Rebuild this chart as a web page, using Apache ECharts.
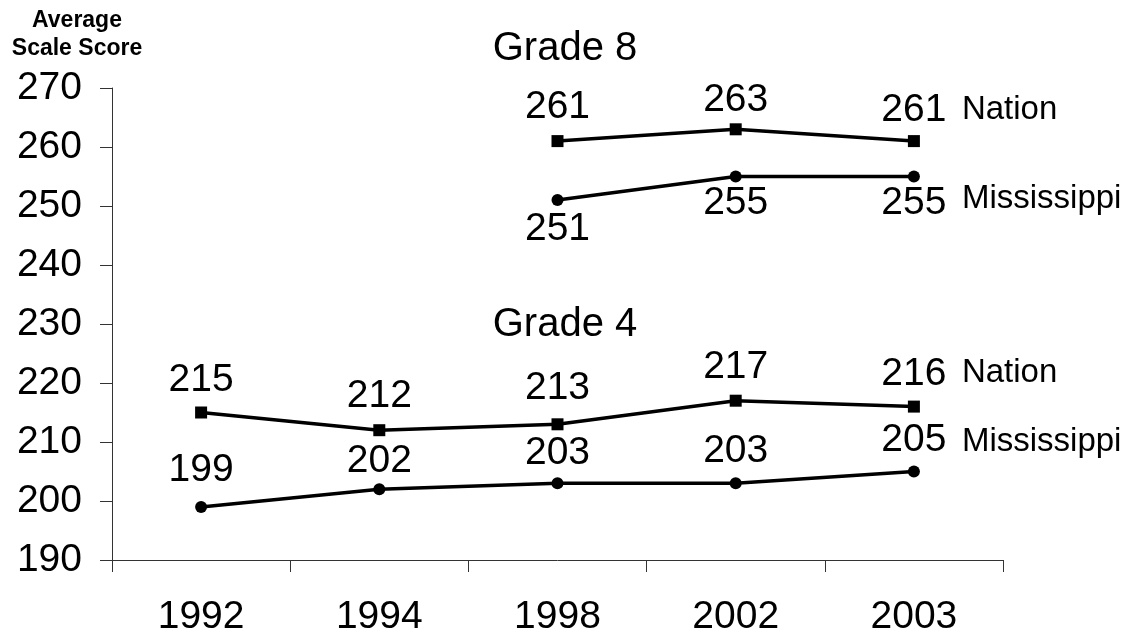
<!DOCTYPE html>
<html>
<head>
<meta charset="utf-8">
<script src="https://cdn.jsdelivr.net/npm/echarts@6/dist/echarts.min.js"></script>
<style>
  html,body{margin:0;padding:0;background:#fff;}
  #main{width:1128px;height:637px;}
</style>
</head>
<body>
<div id="main"></div>
<script>
var years = ['1992', '1994', '1998', '2002', '2003'];
var g8Nation = ['-', '-', 261, 263, 261];
var g8Miss = ['-', '-', 251, 255, 255];
var g4Nation = [215, 212, 213, 217, 216];
var g4Miss = [199, 202, 203, 203, 205];
var yTicks = [190, 200, 210, 220, 230, 240, 250, 260, 270];

// how far each value label sits above (-) or below (+) its point, px
var g8NationLabelDy = [0, 0, -34, -29, -31];
var g8MissLabelDy = [0, 0, 29, 27, 27];
var g4NationLabelDy = [-32, -34, -36, -33, -32];
var g4MissLabelDy = [-37, -28, -30, -32, -31];

var chart = echarts.init(document.getElementById('main'));
var FONT = 'Liberation Sans, Arial, sans-serif';

function withLabels(values, dys) {
  var out = [];
  for (let i = 0; i < values.length; i++) {
    if (values[i] === '-') {
      out.push('-');
    } else {
      out.push({ value: values[i], label: { offset: [0, dys[i]] } });
    }
  }
  return out;
}

function lineSeries(name, values, dys, symbol, nameOffset) {
  return {
    name: name,
    type: 'line',
    data: withLabels(values, dys),
    symbol: symbol,
    symbolSize: 12,
    lineStyle: { color: '#000', width: 3.5 },
    itemStyle: { color: '#000' },
    label: {
      show: true,
      position: 'inside',
      color: '#000',
      fontFamily: FONT,
      fontSize: 39
    },
    endLabel: {
      show: true,
      formatter: '{a}',
      color: '#000',
      fontFamily: FONT,
      fontSize: 33,
      distance: 0,
      offset: nameOffset
    },
    animation: false
  };
}

chart.setOption({
  backgroundColor: '#fff',
  grid: { left: 112, right: 125, top: 88, bottom: 76 },
  graphic: [
    { type: 'text', x: 77, y: 21, style: { text: 'Average', fill: '#000',
      font: 'bold 23px ' + FONT, textAlign: 'center', textVerticalAlign: 'middle' } },
    { type: 'text', x: 77, y: 49, style: { text: 'Scale Score', fill: '#000',
      font: 'bold 23px ' + FONT, textAlign: 'center', textVerticalAlign: 'middle' } },
    { type: 'text', x: 565, y: 49, style: { text: 'Grade 8', fill: '#000',
      font: '40px ' + FONT, textAlign: 'center', textVerticalAlign: 'middle' } },
    { type: 'text', x: 565, y: 325, style: { text: 'Grade 4', fill: '#000',
      font: '40px ' + FONT, textAlign: 'center', textVerticalAlign: 'middle' } }
  ],
  xAxis: {
    type: 'category',
    data: years,
    boundaryGap: true,
    axisLine: { lineStyle: { color: '#333', width: 1 } },
    axisTick: { show: true, length: 12, lineStyle: { color: '#333' } },
    axisLabel: { color: '#000', fontFamily: FONT, fontSize: 39, margin: 38 }
  },
  yAxis: {
    type: 'value',
    min: yTicks[0],
    max: yTicks[yTicks.length - 1],
    interval: 10,
    splitLine: { show: false },
    axisLine: { show: true, lineStyle: { color: '#333', width: 1 } },
    axisTick: { show: true, length: 12, lineStyle: { color: '#333' } },
    axisLabel: { color: '#000', fontFamily: FONT, fontSize: 39, margin: 30 }
  },
  series: [
    lineSeries('Nation', g8Nation, g8NationLabelDy, 'rect', [48, -31]),
    lineSeries('Mississippi', g8Miss, g8MissLabelDy, 'circle', [48, 22]),
    lineSeries('Nation', g4Nation, g4NationLabelDy, 'rect', [48, -34]),
    lineSeries('Mississippi', g4Miss, g4MissLabelDy, 'circle', [48, -30])
  ]
});
</script>
</body>
</html>
